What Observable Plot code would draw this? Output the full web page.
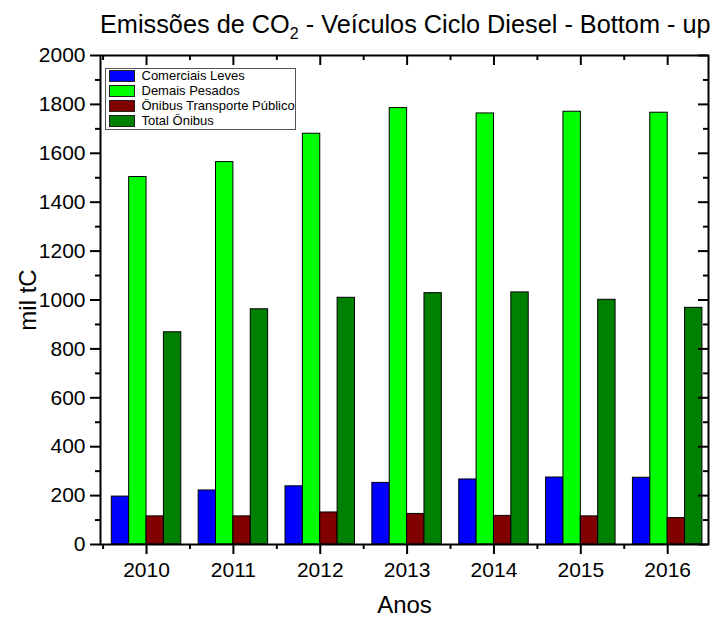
<!DOCTYPE html>
<html><head><meta charset="utf-8">
<script src="https://cdn.jsdelivr.net/npm/d3@7"></script>
<script src="https://cdn.jsdelivr.net/npm/@observablehq/plot@0.6"></script>
<style>
body{margin:0;background:#fff;font-family:"Liberation Sans",Arial,sans-serif;}
#wrap{position:relative;width:710px;height:617px;}
#title{position:absolute;left:100px;width:610px;top:9px;text-align:center;font-size:25.3px;line-height:30px;color:#000;white-space:nowrap;}
#title sub{font-size:16px;vertical-align:-6px;line-height:0;}
#legend{position:absolute;left:105px;top:68px;width:191px;height:62px;box-sizing:border-box;border:1.5px solid #555;background:#fff;padding:0 0 0 3px;overflow:hidden;}
#legend svg{outline:1px solid #222;outline-offset:-1px;}
#legend div{line-height:14px;}
</style></head><body>
<div id="wrap"><div id="chart"></div><div id="title">Emissões de CO<sub>2</sub> - Veículos Ciclo Diesel - Bottom - up</div><div id="legend"></div></div>
<script>
const years = [2010, 2011, 2012, 2013, 2014, 2015, 2016];
const series = ["Comerciais Leves", "Demais Pesados", "Ônibus Transporte Público", "Total Ônibus"];
const comerciaisLeves = [196, 221, 238, 252, 266, 274, 273];
const demaisPesados = [1503, 1564, 1680, 1785, 1763, 1770, 1766];
const onibusTransportePublico = [115, 115, 131, 125, 117, 115, 108];
const totalOnibus = [868, 962, 1009, 1028, 1031, 1001, 968];
const colors = ["#0000ff", "#00ff00", "#800000", "#008000"];
const yMajorTicks = [0, 200, 400, 600, 800, 1000, 1200, 1400, 1600, 1800, 2000];
const yMinorTicks = [100, 300, 500, 700, 900, 1100, 1300, 1500, 1700, 1900];
const xMinorTicks = [2009.5, 2010.5, 2011.5, 2012.5, 2013.5, 2014.5, 2015.5];

const seriesValues = [comerciaisLeves, demaisPesados, onibusTransportePublico, totalOnibus];
const data = years.flatMap((yr, i) => seriesValues.map((arr, k) => ({year: yr, series: series[k], k, value: arr[i]})));
const barWidth = 0.2;
const font = "Liberation Sans, Arial, sans-serif";
const blank = () => "";
const W = 710, H = 617, mL = 100, mR = 2, mT = 55, mB = 73;
const plotW = W - mL - mR, plotH = H - mT - mB;

const chart = Plot.plot({
  width: W, height: H,
  marginLeft: mL, marginRight: mR, marginTop: mT, marginBottom: mB,
  style: {fontFamily: font, fontSize: "21px", color: "#000", background: "#fff", overflow: "visible"},
  x: {domain: [2009.47, 2016.47]},
  y: {domain: [0, 2000]},
  color: {domain: series, range: colors},
  marks: [
    Plot.rectY(data, {x1: d => d.year + (d.k - 2) * barWidth, x2: d => d.year + (d.k - 1) * barWidth, y1: 0, y2: "value", fill: "series", stroke: "#000", strokeWidth: 1}),
    Plot.frame({stroke: "#000", strokeWidth: 2}),
    Plot.axisY({anchor: "left", ticks: yMajorTicks, tickSize: 10, tickPadding: 5, tickFormat: d => String(d), fontSize: 21, strokeWidth: 2, label: null}),
    Plot.axisY({anchor: "left", ticks: yMinorTicks, tickSize: 5, tickFormat: blank, strokeWidth: 2, label: null}),
    Plot.ruleY(yMajorTicks, {insetLeft: plotW - 10, stroke: "#000", strokeWidth: 2}),
    Plot.ruleY(yMinorTicks, {insetLeft: plotW - 5, stroke: "#000", strokeWidth: 2}),
    Plot.axisX({anchor: "bottom", ticks: years, tickSize: 10, tickPadding: 8, tickFormat: d => String(d), fontSize: 21, strokeWidth: 2, label: null}),
    Plot.axisX({anchor: "bottom", ticks: xMinorTicks, tickSize: 5, tickFormat: blank, strokeWidth: 2, label: null}),
    Plot.ruleX(years, {insetBottom: plotH - 10, stroke: "#000", strokeWidth: 2}),
    Plot.ruleX(xMinorTicks, {insetBottom: plotH - 5, stroke: "#000", strokeWidth: 2}),
    Plot.text(["Anos"], {text: d => d, frameAnchor: "bottom", textAnchor: "middle", lineAnchor: "middle", dy: 61, fontSize: 24, fill: "#000"}),
    Plot.text(["mil tC"], {text: d => d, frameAnchor: "left", textAnchor: "middle", lineAnchor: "middle", dx: -72, rotate: -90, fontSize: 24, fill: "#000"})
  ]
});
document.getElementById("chart").append(chart);

const leg = Plot.legend({
  color: {domain: series, range: colors},
  legend: "swatches", columns: 1, swatchWidth: 26, swatchHeight: 12,
  style: {fontFamily: font, fontSize: "13px", color: "#000", margin: "0"}
});
document.getElementById("legend").append(leg);
</script>
</body></html>
